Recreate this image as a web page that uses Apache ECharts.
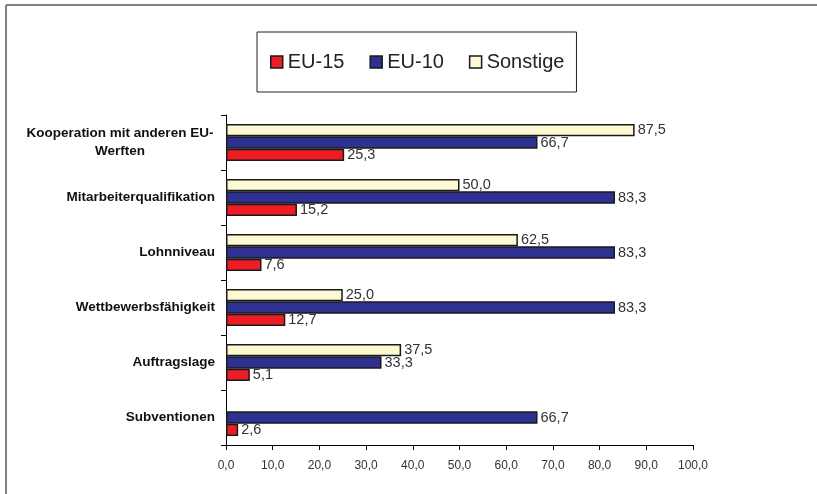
<!DOCTYPE html>
<html>
<head>
<meta charset="utf-8">
<script src="https://cdn.jsdelivr.net/npm/echarts@6/dist/echarts.min.js"></script>
<style>
  html, body { margin: 0; padding: 0; background: #fff; }
  #chart { width: 817px; height: 494px; }
</style>
</head>
<body>
<div id="chart"></div>
<script>
const categories = [
  'Kooperation mit anderen EU-\nWerften',
  'Mitarbeiterqualifikation',
  'Lohnniveau',
  'Wettbewerbsfähigkeit',
  'Auftragslage',
  'Subventionen'
];
const eu15 = [25.3, 15.2, 7.6, 12.7, 5.1, 2.6];
const eu10 = [66.7, 83.3, 83.3, 83.3, 33.3, 66.7];
const sonstige = [87.5, 50.0, 62.5, 25.0, 37.5, null];

const font = '"Liberation Sans", Arial, sans-serif';
const fmt = (v) => v.toFixed(1).replace('.', ',');

function barSeries(name, data, color) {
  return {
    name, type: 'bar', data,
    barGap: 0, barCategoryGap: '33%',
    itemStyle: { color, borderColor: '#1a1a1a', borderWidth: 1.5 },
    label: {
      show: true, position: 'right', distance: 3,
      color: '#333', fontSize: 14.5, fontFamily: font,
      formatter: (p) => fmt(p.value)
    }
  };
}

const chart = echarts.init(document.getElementById('chart'));
chart.setOption({
  animation: false,
  textStyle: { fontFamily: font },
  graphic: [
    { type: 'line', shape: { x1: 6, y1: 5, x2: 817, y2: 5 }, style: { stroke: '#808080', lineWidth: 2 } },
    { type: 'line', shape: { x1: 6, y1: 5, x2: 6, y2: 494 }, style: { stroke: '#808080', lineWidth: 2 } }
  ],
  legend: {
    left: 257, top: 32,
    padding: [20, 12, 20, 13],
    borderColor: '#222', borderWidth: 1,
    itemGap: 25, itemWidth: 12, itemHeight: 12,
    icon: 'rect',
    itemStyle: { borderColor: '#1a1a1a', borderWidth: 1.5 },
    textStyle: { fontSize: 20, color: '#222', fontFamily: font, lineHeight: 20 },
    data: ['EU-15', 'EU-10', 'Sonstige']
  },
  grid: { left: 226, right: 124, top: 115, bottom: 49, containLabel: false },
  xAxis: {
    type: 'value', min: 0, max: 100, interval: 10,
    axisLine: { show: true, lineStyle: { color: '#000', width: 1 } },
    axisTick: { show: true, length: 5, lineStyle: { color: '#000' } },
    splitLine: { show: false },
    axisLabel: { color: '#333', fontSize: 12, fontFamily: font, margin: 15, formatter: fmt }
  },
  yAxis: {
    type: 'category', inverse: true, data: categories,
    axisLine: { show: true, lineStyle: { color: '#000', width: 1 } },
    axisTick: { show: true, length: 5, lineStyle: { color: '#000' } },
    axisLabel: {
      color: '#111', fontSize: 13.5, fontWeight: 'bold', fontFamily: font, margin: 11,
      lineHeight: 18,
      formatter: (v) => v.indexOf('\n') >= 0 ? v.split('\n').map((s) => '{c|' + s + '}').join('\n') : v,
      rich: { c: { width: 190, align: 'center', fontSize: 13.5, fontWeight: 'bold', color: '#111', fontFamily: font, lineHeight: 18 } }
    }
  },
  series: [
    barSeries('Sonstige', sonstige, '#fdf9d3'),
    barSeries('EU-10', eu10, '#2e3192'),
    barSeries('EU-15', eu15, '#ee1c25')
  ]
});
</script>
</body>
</html>
